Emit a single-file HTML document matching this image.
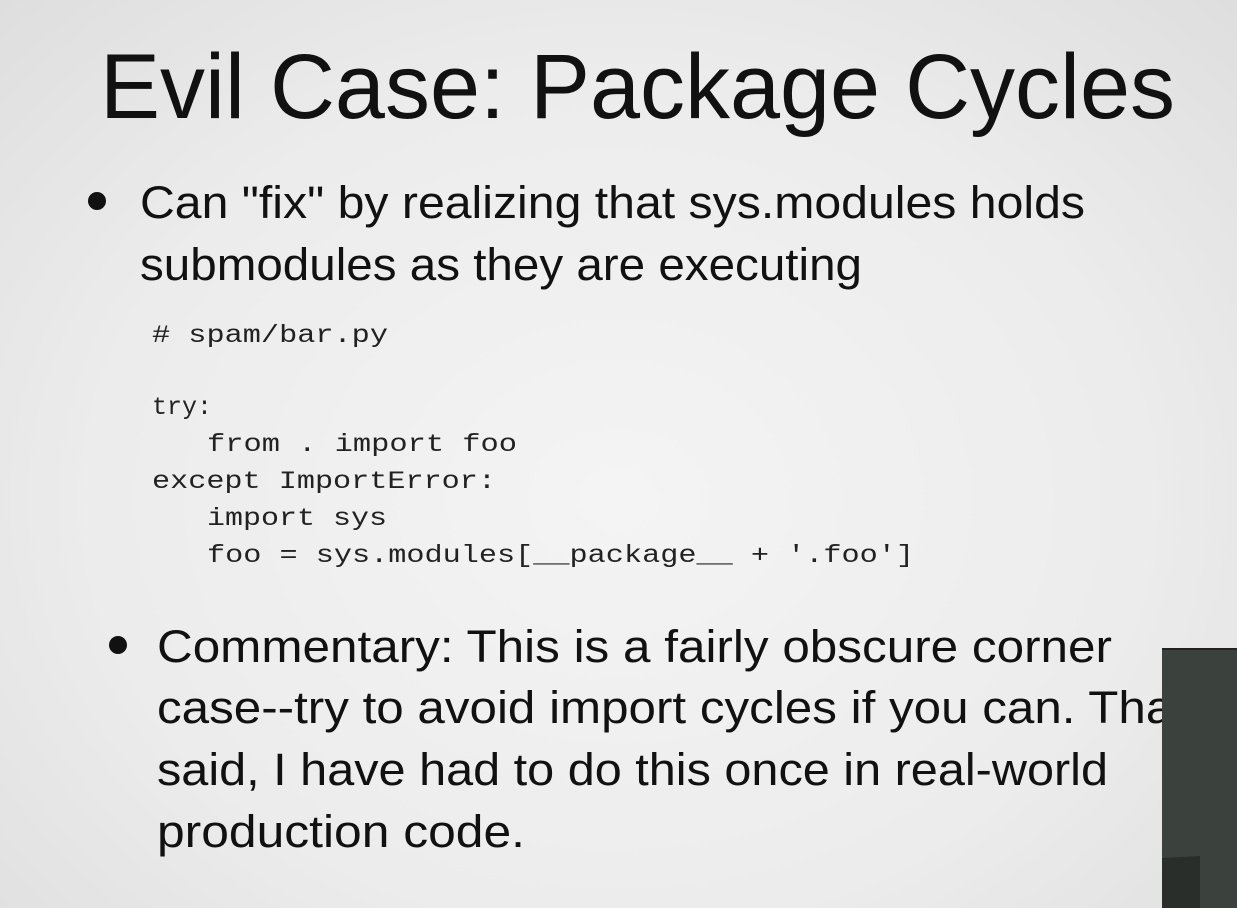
<!DOCTYPE html>
<html><head><style>
html,body{margin:0;padding:0;}
body{width:1237px;height:908px;overflow:hidden;background:radial-gradient(ellipse at 50% 55%,#f4f4f4 0%,#ececec 60%,#dedede 100%);}
svg{position:absolute;left:0;top:0;}
</style></head><body>
<svg width="1237" height="908" xmlns="http://www.w3.org/2000/svg">
<g font-family="Liberation Sans, sans-serif" fill="#111">
<text x="100" y="118" font-size="92" textLength="1075" lengthAdjust="spacingAndGlyphs">Evil Case: Package Cycles</text>
<circle cx="97" cy="201" r="9"/>
<text x="140" y="218" font-size="45" textLength="945" lengthAdjust="spacingAndGlyphs">Can "fix" by realizing that sys.modules holds</text>
<text x="140" y="280" font-size="45" textLength="722" lengthAdjust="spacingAndGlyphs">submodules as they are executing</text>
<circle cx="118" cy="645" r="9"/>
<text x="157" y="662" font-size="45" textLength="955" lengthAdjust="spacingAndGlyphs">Commentary: This is a fairly obscure corner</text>
<text x="157" y="723" font-size="45" textLength="1030" lengthAdjust="spacingAndGlyphs">case--try to avoid import cycles if you can. That</text>
<text x="157" y="785" font-size="45" textLength="951" lengthAdjust="spacingAndGlyphs">said, I have had to do this once in real-world</text>
<text x="157" y="847" font-size="45" textLength="368" lengthAdjust="spacingAndGlyphs">production code.</text>
</g>
<g font-family="Liberation Mono, monospace" font-size="25" fill="#222" xml:space="preserve">
<text x="152" y="342" textLength="236" lengthAdjust="spacingAndGlyphs"># spam/bar.py</text>
<text x="152" y="414">try:</text>
<text x="207" y="451" textLength="310" lengthAdjust="spacingAndGlyphs">from . import foo</text>
<text x="152" y="488" textLength="344" lengthAdjust="spacingAndGlyphs">except ImportError:</text>
<text x="207" y="525" textLength="180" lengthAdjust="spacingAndGlyphs">import sys</text>
<text x="207" y="562" textLength="707" lengthAdjust="spacingAndGlyphs">foo = sys.modules[__package__ + '.foo']</text>
</g>
<rect x="1162" y="648" width="80" height="270" fill="#3b413d"/>
<rect x="1162" y="648" width="80" height="2" fill="#222"/>
<polygon points="1162,858 1200,856 1200,908 1162,908" fill="#2a2e2b"/>
</svg>
</body></html>
